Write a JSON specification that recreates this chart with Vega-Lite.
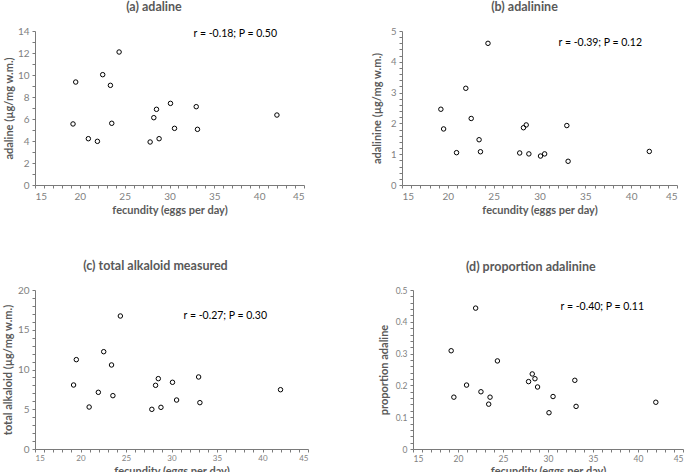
{
  "$schema": "https://vega.github.io/schema/vega-lite/v6.json",
  "padding": {"left": 2, "top": 0, "right": 0, "bottom": 0},
  "background": "white",
  "datasets": {
    "fec": [
      {"fecundity": 19.24, "adaline": 5.55, "adalinine": 2.46, "total": 8.05, "proportion": 0.309},
      {"fecundity": 19.54, "adaline": 9.36, "adalinine": 1.82, "total": 11.24, "proportion": 0.163},
      {"fecundity": 20.95, "adaline": 4.21, "adalinine": 1.05, "total": 5.28, "proportion": 0.201},
      {"fecundity": 21.96, "adaline": 3.97, "adalinine": 3.14, "total": 7.13, "proportion": 0.443},
      {"fecundity": 22.55, "adaline": 10.03, "adalinine": 2.16, "total": 12.24, "proportion": 0.18},
      {"fecundity": 23.41, "adaline": 9.06, "adalinine": 1.47, "total": 10.57, "proportion": 0.141},
      {"fecundity": 23.56, "adaline": 5.61, "adalinine": 1.08, "total": 6.71, "proportion": 0.163},
      {"fecundity": 24.38, "adaline": 12.09, "adalinine": 4.6, "total": 16.73, "proportion": 0.277},
      {"fecundity": 27.84, "adaline": 3.91, "adalinine": 1.04, "total": 4.99, "proportion": 0.212},
      {"fecundity": 28.25, "adaline": 6.12, "adalinine": 1.86, "total": 8.01, "proportion": 0.236},
      {"fecundity": 28.55, "adaline": 6.88, "adalinine": 1.95, "total": 8.85, "proportion": 0.221},
      {"fecundity": 28.84, "adaline": 4.21, "adalinine": 1.01, "total": 5.24, "proportion": 0.195},
      {"fecundity": 30.11, "adaline": 7.42, "adalinine": 0.94, "total": 8.39, "proportion": 0.114},
      {"fecundity": 30.56, "adaline": 5.15, "adalinine": 1.01, "total": 6.16, "proportion": 0.165},
      {"fecundity": 32.98, "adaline": 7.12, "adalinine": 1.93, "total": 9.06, "proportion": 0.216},
      {"fecundity": 33.12, "adaline": 5.06, "adalinine": 0.77, "total": 5.83, "proportion": 0.134},
      {"fecundity": 41.98, "adaline": 6.36, "adalinine": 1.09, "total": 7.46, "proportion": 0.147}
    ]
  },
  "config": {
    "view": {"stroke": null},
    "axis": {
      "grid": false,
      "domainColor": "#7a7a7a",
      "tickColor": "#7a7a7a",
      "tickSize": 3,
      "labelColor": "#7f7f7f",
      "titleColor": "#595959",
      "labelFont": "Lato",
      "titleFont": "Lato",
      "titleFontWeight": "bold",
      "titleFontSize": 11,
      "labelFontSize": 10
    }
  },
  "vconcat": [
    {
      "hconcat": [
        {
          "title": {"text": "(a) adaline", "offset": 13, "anchor": "middle", "frame": "bounds", "font": "Lato", "fontSize": 12.5, "fontWeight": "bold", "color": "#595959"},
          "vconcat": [
            {
              "title": {"text": "r = -0.18; P = 0.50", "anchor": "end", "frame": "group", "baseline": "middle", "offset": -18, "dx": -27, "font": "Lato", "fontSize": 10.5, "fontWeight": "normal", "color": "#000000"},
              "width": 269,
              "height": 154,
              "data": {"name": "fec"},
              "mark": {"type": "point", "filled": false, "color": "#000000", "size": 20, "strokeWidth": 1, "opacity": 1},
              "encoding": {
                "x": {"field": "fecundity", "type": "quantitative", "scale": {"domain": [15, 45], "nice": false}, "title": "fecundity (eggs per day)",
                  "axis": {"labelOverlap": false, "values": [15,16,17,18,19,20,21,22,23,24,25,26,27,28,29,30,31,32,33,34,35,36,37,38,39,40,41,42,43,44,45], "labelExpr": "datum.value % 5 === 0 ? datum.label : ''", "labelPadding": 3, "titlePadding": 3}},
                "y": {"field": "adaline", "type": "quantitative", "scale": {"domain": [0, 14], "nice": false}, "title": "adaline (µg/mg w.m.)",
                  "axis": {"labelOverlap": false, "values": [0,1,2,3,4,5,6,7,8,9,10,11,12,13,14], "labelExpr": "datum.value % 2 === 0 ? datum.label : ''", "labelPadding": 3, "titlePadding": 3}}
              }
            }
          ]
        },
        {
          "title": {"text": "(b) adalinine", "offset": 13, "anchor": "middle", "frame": "bounds", "font": "Lato", "fontSize": 12.5, "fontWeight": "bold", "color": "#595959"},
          "vconcat": [
            {
              "title": {"text": "r = -0.39; P = 0.12", "anchor": "end", "frame": "group", "baseline": "middle", "offset": -27, "dx": -35, "font": "Lato", "fontSize": 10.5, "fontWeight": "normal", "color": "#000000"},
              "width": 275,
              "height": 154,
              "data": {"name": "fec"},
              "mark": {"type": "point", "filled": false, "color": "#000000", "size": 20, "strokeWidth": 1, "opacity": 1},
              "encoding": {
                "x": {"field": "fecundity", "type": "quantitative", "scale": {"domain": [15, 45], "nice": false}, "title": "fecundity (eggs per day)",
                  "axis": {"labelOverlap": false, "values": [15,16,17,18,19,20,21,22,23,24,25,26,27,28,29,30,31,32,33,34,35,36,37,38,39,40,41,42,43,44,45], "labelExpr": "datum.value % 5 === 0 ? datum.label : ''", "labelPadding": 3, "titlePadding": 3}},
                "y": {"field": "adalinine", "type": "quantitative", "scale": {"domain": [0, 5], "nice": false}, "title": "adalinine (µg/mg w.m.)",
                  "axis": {"labelOverlap": false, "values": [0,0.2,0.4,0.6,0.8,1,1.2,1.4,1.6,1.8,2,2.2,2.4,2.6,2.8,3,3.2,3.4,3.6,3.8,4,4.2,4.4,4.6,4.8,5], "labelExpr": "abs(round(datum.value) - datum.value) < 1e-6 ? format(datum.value, 'd') : ''", "labelPadding": 3, "titlePadding": 8, "labelFontSize": 9.5}}
              }
            }
          ]
        }
      ],
      "spacing": 66
    },
    {
      "hconcat": [
        {
          "title": {"text": "(c) total alkaloid measured", "offset": 13, "anchor": "middle", "frame": "bounds", "font": "Lato", "fontSize": 12.5, "fontWeight": "bold", "color": "#595959"},
          "vconcat": [
            {
              "title": {"text": "r = -0.27; P = 0.30", "anchor": "end", "frame": "group", "baseline": "middle", "offset": -41, "dx": -41, "font": "Lato", "fontSize": 10.5, "fontWeight": "normal", "color": "#000000"},
              "width": 273,
              "height": 159,
              "data": {"name": "fec"},
              "mark": {"type": "point", "filled": false, "color": "#000000", "size": 20, "strokeWidth": 1, "opacity": 1},
              "encoding": {
                "x": {"field": "fecundity", "type": "quantitative", "scale": {"domain": [15, 45], "nice": false}, "title": "fecundity (eggs per day)",
                  "axis": {"labelOverlap": false, "values": [15,16,17,18,19,20,21,22,23,24,25,26,27,28,29,30,31,32,33,34,35,36,37,38,39,40,41,42,43,44,45], "labelExpr": "datum.value % 5 === 0 ? datum.label : ''", "labelPadding": 2, "titlePadding": 3, "labelFontSize": 8}},
                "y": {"field": "total", "type": "quantitative", "scale": {"domain": [0, 20], "nice": false}, "title": "total alkaloid (µg/mg w.m.)",
                  "axis": {"labelOverlap": false, "values": [0,1,2,3,4,5,6,7,8,9,10,11,12,13,14,15,16,17,18,19,20], "labelExpr": "datum.value % 5 === 0 ? datum.label : ''", "labelPadding": 3, "titlePadding": 4}}
              }
            }
          ]
        },
        {
          "title": {"text": "(d) proportion adalinine", "offset": 13, "anchor": "middle", "frame": "bounds", "font": "Lato", "fontSize": 12.5, "fontWeight": "bold", "color": "#595959"},
          "vconcat": [
            {
              "title": {"text": "r = -0.40; P = 0.11", "anchor": "end", "frame": "group", "baseline": "middle", "offset": -31, "dx": -39, "font": "Lato", "fontSize": 10.5, "fontWeight": "normal", "color": "#000000"},
              "width": 270,
              "height": 159,
              "data": {"name": "fec"},
              "mark": {"type": "point", "filled": false, "color": "#000000", "size": 20, "strokeWidth": 1, "opacity": 1},
              "encoding": {
                "x": {"field": "fecundity", "type": "quantitative", "scale": {"domain": [15, 45], "nice": false}, "title": "fecundity (eggs per day)",
                  "axis": {"labelOverlap": false, "values": [15,16,17,18,19,20,21,22,23,24,25,26,27,28,29,30,31,32,33,34,35,36,37,38,39,40,41,42,43,44,45], "labelExpr": "datum.value % 5 === 0 ? datum.label : ''", "labelPadding": 2, "titlePadding": 3, "labelFontSize": 8.5}},
                "y": {"field": "proportion", "type": "quantitative", "scale": {"domain": [0, 0.5], "nice": false}, "title": "proportion adaline",
                  "axis": {"labelOverlap": false, "values": [0,0.02,0.04,0.06,0.08,0.1,0.12,0.14,0.16,0.18,0.2,0.22,0.24,0.26,0.28,0.3,0.32,0.34,0.36,0.38,0.4,0.42,0.44,0.46,0.48,0.5], "labelExpr": "abs(round(datum.value * 10) - datum.value * 10) < 1e-6 ? format(datum.value, '.1~f') : ''", "labelPadding": 3, "titlePadding": 6, "labelFontSize": 8.5}}
              }
            }
          ]
        }
      ],
      "spacing": 69
    }
  ],
  "spacing": 44
}
